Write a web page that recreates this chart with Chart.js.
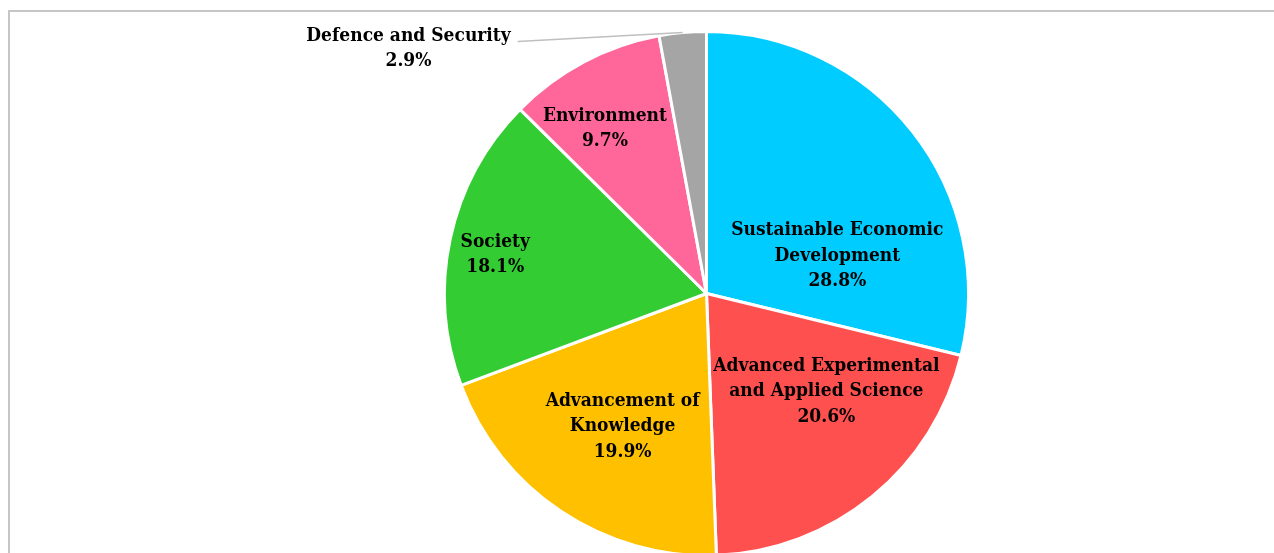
<!DOCTYPE html>
<html>
<head>
<meta charset="utf-8">
<title>Research funding by theme</title>
<script src="https://cdn.jsdelivr.net/npm/chart.js@4.4.1/dist/chart.umd.min.js"></script>
<style>
html, body { margin: 0; padding: 0; background: #fff; }
body { width: 1274px; height: 553px; overflow: hidden; position: relative; }
#frame { position: absolute; left: 8px; top: 10px; width: 1400px; height: 700px; border: 2px solid #c6c6c6; }
#myChart { position: absolute; left: 0; top: 0; }
</style>
</head>
<body>
<div id="frame"></div>
<canvas id="myChart" width="1274" height="600"></canvas>
<script>
// slices, clockwise from 12 o'clock
let temas = [
    ['Sustainable Economic', 'Development'],
    ['Advanced Experimental', 'and Applied Science'],
    ['Advancement of', 'Knowledge'],
    ['Society'],
    ['Environment'],
    ['Defence and Security']
]
let percentuais = [28.8, 20.6, 19.9, 18.1, 9.7, 2.9]
let cores = ['#00CCFF', '#FF5050', '#FFC000', '#33CC33', '#FF6699', '#A5A5A5']

// where each label sits: angle shift from the slice middle (deg) and fraction of radius
let posRotulos = [
    {shift: 22, frac: 0.52},
    {shift: -11.6, frac: 0.59},
    {shift: -1.4, frac: 0.60},
    {shift: -1.6, frac: 0.82},
    {shift: -3.7, frac: 0.74},
    {fora: true, dx: -165, dy: 9}
]

let fonte = 'bold 19px "DejaVu Serif Condensed", "DejaVu Serif"'
let alturaLinha = 25.5

let rotulos = {
    id: 'rotulos',
    afterDatasetsDraw(chart) {
        let ctx = chart.ctx
        let arcos = chart.getDatasetMeta(0).data
        ctx.save()
        ctx.font = fonte
        ctx.fillStyle = '#000'
        ctx.textAlign = 'center'
        ctx.textBaseline = 'middle'
        arcos.forEach(function(arco, i) {
            let p = arco.getProps(['x', 'y', 'startAngle', 'endAngle', 'outerRadius'], true)
            let meio = (p.startAngle + p.endAngle) / 2
            let linhas = temas[i].concat([percentuais[i].toFixed(1) + '%'])
            let pos = posRotulos[i]
            let cx, cy
            if (pos.fora) {
                let ex = p.x + Math.cos(meio) * p.outerRadius
                let ey = p.y + Math.sin(meio) * p.outerRadius
                let lx = ex + pos.dx
                let ly = ey + pos.dy
                ctx.strokeStyle = '#bfbfbf'
                ctx.lineWidth = 1.5
                ctx.beginPath()
                ctx.moveTo(ex, ey)
                ctx.lineTo(lx, ly)
                ctx.stroke()
                let larg = Math.max.apply(null, linhas.map(l => ctx.measureText(l).width))
                cx = lx - 7 - larg / 2
                cy = ly + 7
            } else {
                let ang = meio + pos.shift * Math.PI / 180
                cx = p.x + Math.cos(ang) * p.outerRadius * pos.frac
                cy = p.y + Math.sin(ang) * p.outerRadius * pos.frac
            }
            let topo = cy - (linhas.length - 1) * alturaLinha / 2
            linhas.forEach(function(l, k) {
                ctx.fillText(l, cx, topo + k * alturaLinha)
            })
        })
        ctx.restore()
    }
}

let dados = {
    labels: temas.map(t => t.join(' ')),
    datasets: [{
        data: percentuais,
        backgroundColor: cores,
        borderColor: '#fff',
        borderWidth: 3,
        hoverOffset: 0
    }]
}

let opcoes = {
    responsive: false,
    animation: false,
    layout: { padding: { left: 443, top: 30, right: 304, bottom: 43 } },
    plugins: {
        legend: { display: false },
        tooltip: { enabled: false }
    }
}

new Chart(document.getElementById('myChart'), {
    type: 'pie',
    data: dados,
    options: opcoes,
    plugins: [rotulos]
})
</script>
</body>
</html>
